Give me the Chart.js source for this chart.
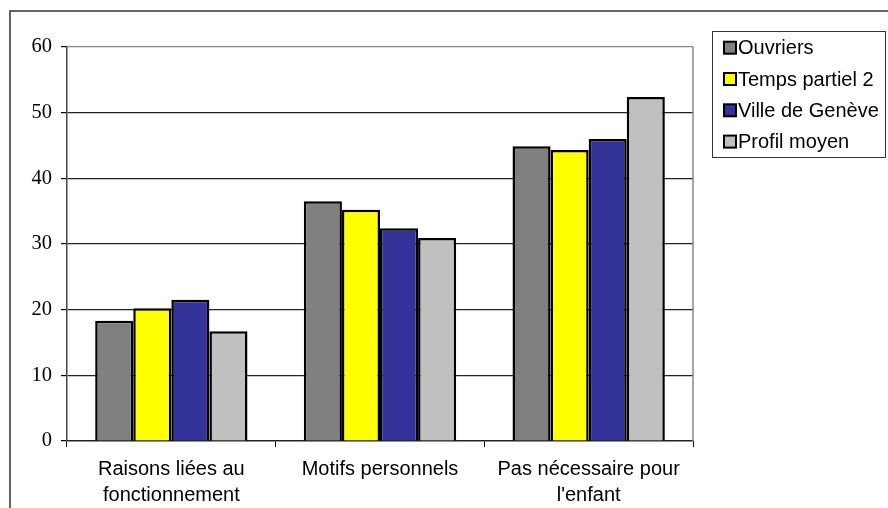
<!DOCTYPE html>
<html>
<head>
<meta charset="utf-8">
<script src="https://cdn.jsdelivr.net/npm/chart.js@4/dist/chart.umd.min.js"></script>
<style>
  body { margin: 0; background: #fff; }
  #wrap { width: 888px; height: 508px; position: relative; }
</style>
</head>
<body>
<div id="wrap"><canvas id="chart" width="888" height="508"></canvas></div>
<script>
// categories + series
const categories = [
  ['Raisons liées au', 'fonctionnement'],
  'Motifs personnels',
  ['Pas nécessaire pour', "l'enfant"]
];
const seriesNames = ['Ouvriers', 'Temps partiel 2', 'Ville de Genève', 'Profil moyen'];
const ouvriers = [18.3, 36.5, 44.9];
const tempsPartiel = [20.2, 35.2, 44.3];
const villeGeneve = [21.5, 32.4, 46.0];
const profilMoyen = [16.7, 30.9, 52.4];
const seriesColors = ['#808080', '#ffff00', '#333399', '#c0c0c0'];
const yTicks = [0, 10, 20, 30, 40, 50, 60];

const allValues = [ouvriers, tempsPartiel, villeGeneve, profilMoyen];

// frame around the whole chart (only top/left edges visible)
const framePlugin = {
  id: 'frame',
  beforeDraw(chart) {
    const ctx = chart.ctx;
    ctx.save();
    ctx.fillStyle = '#fff';
    ctx.fillRect(0, 0, chart.width, chart.height);
    ctx.strokeStyle = '#333';
    ctx.lineWidth = 1.5;
    ctx.beginPath();
    ctx.moveTo(10, chart.height);
    ctx.lineTo(10, 11);
    ctx.lineTo(chart.width, 11);
    ctx.stroke();
    ctx.restore();
  },
  afterDraw(chart) {
    // right border of the plot area in grey
    const a = chart.chartArea;
    const ctx = chart.ctx;
    ctx.save();
    ctx.strokeStyle = '#888';
    ctx.lineWidth = 1.5;
    ctx.beginPath();
    ctx.moveTo(a.right, a.top);
    ctx.lineTo(a.right, a.bottom);
    ctx.stroke();
    ctx.restore();
  }
};

// boxed legend on the right, built from the datasets
const boxLegend = {
  id: 'boxLegend',
  afterDraw(chart) {
    const ctx = chart.ctx;
    const x0 = 712, y0 = 31, w = 173, h = 126;
    ctx.save();
    ctx.strokeStyle = '#333';
    ctx.lineWidth = 1;
    ctx.strokeRect(x0 + 0.5, y0 + 0.5, w, h);
    ctx.font = '20px "Liberation Sans", Arial, sans-serif';
    ctx.textBaseline = 'middle';
    chart.data.datasets.forEach((ds, i) => {
      const cy = 47.7 + i * 31.3;
      ctx.fillStyle = ds.backgroundColor;
      ctx.fillRect(724, cy - 6, 12, 12);
      ctx.strokeStyle = '#000';
      ctx.lineWidth = 2;
      ctx.strokeRect(724, cy - 6, 12, 12);
      ctx.fillStyle = '#000';
      ctx.fillText(ds.label, 738, cy + 1);
    });
    ctx.restore();
  }
};

new Chart(document.getElementById('chart'), {
  type: 'bar',
  data: {
    labels: categories,
    datasets: seriesNames.map((name, i) => ({
      label: name,
      data: allValues[i],
      backgroundColor: seriesColors[i],
      borderColor: '#000',
      borderWidth: 2.5,
      categoryPercentage: 0.73,
      barPercentage: 1.0
    }))
  },
  options: {
    responsive: false,
    animation: false,
    layout: { padding: { left: 0, top: 47, right: 195, bottom: 0 } },
    plugins: {
      legend: { display: false },
      tooltip: { enabled: false }
    },
    scales: {
      x: {
        afterFit(scale) {
          scale.height = 67;
          scale.paddingLeft = 0;
          scale.paddingRight = 0;
        },
        grid: {
          display: true,
          offset: true,
          drawOnChartArea: false,
          drawTicks: true,
          tickLength: 6,
          color: '#000',
          tickColor: '#000'
        },
        border: { display: true, color: '#222', width: 1.5 },
        ticks: {
          color: '#000',
          padding: 10,
          maxRotation: 0,
          autoSkip: false,
          font: { family: '"Liberation Sans", Arial, sans-serif', size: 20, lineHeight: 1.28 }
        }
      },
      y: {
        min: 0,
        max: 60,
        afterFit(scale) {
          scale.width = 67;
          scale.paddingTop = 0;
          scale.paddingBottom = 0;
        },
        afterBuildTicks(scale) {
          scale.ticks = yTicks.map(v => ({ value: v }));
        },
        grid: {
          color: ctx => ctx.tick && ctx.tick.value === 60 ? '#888' : (ctx.tick && ctx.tick.value === 0 ? 'rgba(0,0,0,0)' : '#222'),
          tickColor: '#000',
          lineWidth: 1.2,
          tickLength: 6
        },
        border: { display: true, color: '#444', width: 1.5 },
        ticks: {
          color: '#000',
          padding: 9,
          font: { family: '"Liberation Serif", "Times New Roman", serif', size: 20.5 }
        }
      }
    }
  },
  plugins: [framePlugin, boxLegend]
});
</script>
</body>
</html>
